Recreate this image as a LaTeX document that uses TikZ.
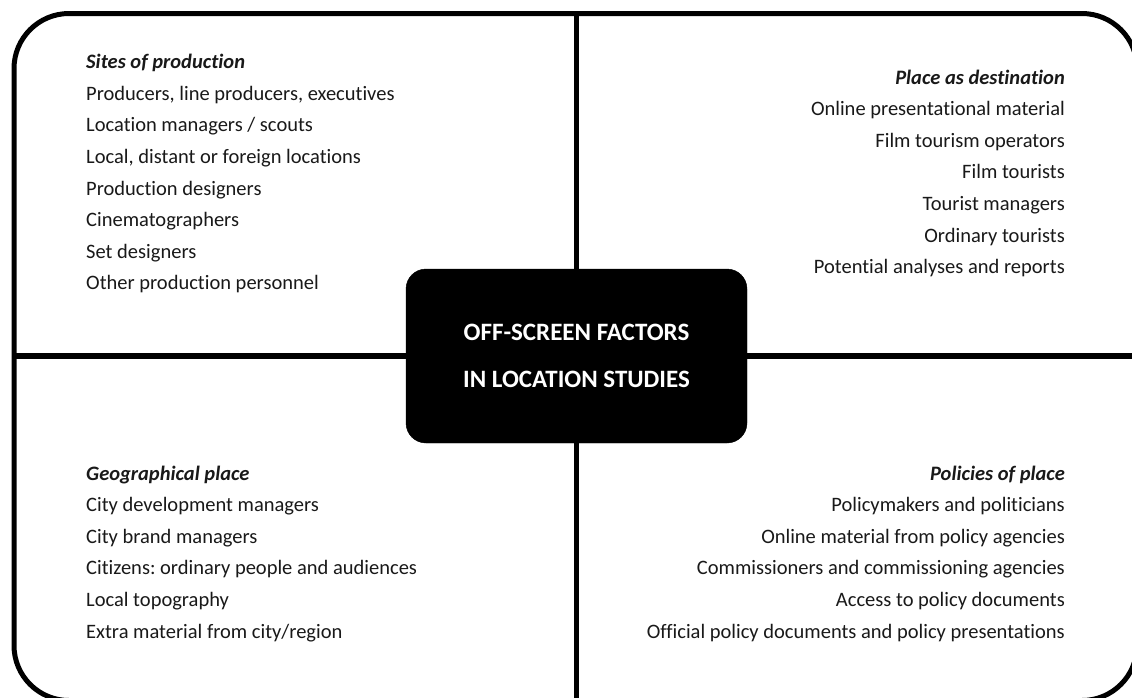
\documentclass[tikz,border=0pt]{standalone}
\usepackage{fontspec}
\setmainfont[Ligatures=NoCommon]{Carlito}
\usetikzlibrary{positioning}
\frenchspacing
\tikzset{
  frame/.style={draw=black, line width=5pt, rounded corners=55pt},
  divider/.style={draw=black, line width=5.5pt},
  hub/.style={rectangle, rounded corners=20pt, fill=black, draw=black,
    minimum width=341pt, minimum height=174pt, align=center, text=white,
    font=\fontsize{25}{47.7}\selectfont\bfseries},
  item/.style={inner sep=0pt, text=black!90, font=\fontsize{20.5}{24}\selectfont},
  head/.style={item, font=\fontsize{20.5}{24}\selectfont\bfseries\itshape},
}

\begin{document}
\begin{tikzpicture}[x=1pt, y=-1pt]
  \useasboundingbox (0,0) rectangle (1132,697);
  \fill[white] (0,0) rectangle (1132,697);
  \draw[frame] (14,13.5) rectangle (1137,700.5);
  \coordinate (top) at (576.5,13.5);
  \coordinate (bottom) at (576.5,700.5);
  \coordinate (left) at (14,356);
  \coordinate (right) at (1137,356);
  \node[hub] (hub) at (576.5,356) {OFF-SCREEN FACTORS\\IN LOCATION STUDIES};
  \draw[divider] (top) -- (hub.north);
  \draw[divider] (hub.south) -- (bottom);
  \draw[divider] (left) -- (hub.west);
  \draw[divider] (hub.east) -- (right);
  % sites of production
  \node[head, anchor=base west] (sites) at (86,68.6) {Sites of production};
  \foreach \l [count=\i] in {{Producers, line producers, executives}, Location managers / scouts,
    {Local, distant or foreign locations}, Production designers, Cinematographers,
    Set designers, Other production personnel}
    \node[item, anchor=base west] (sites-\i) at (86,68.6+31.6*\i) {\l};
  % place as destination
  \node[head, anchor=base east] (dest) at (1065,84) {Place as destination};
  \foreach \l [count=\i] in {Online presentational material, Film tourism operators, Film tourists,
    Tourist managers, Ordinary tourists, Potential analyses and reports}
    \node[item, anchor=base east] (dest-\i) at (1065,84+31.6*\i) {\l};
  % geographical place
  \node[head, anchor=base west] (geo) at (86,480) {Geographical place};
  \foreach \l [count=\i] in {City development managers, City brand managers,
    Citizens: ordinary people and audiences, Local topography, Extra material from city/region}
    \node[item, anchor=base west] (geo-\i) at (86,480+31.6*\i) {\l};
  % policies of place
  \node[head, anchor=base east] (policy) at (1065,480) {Policies of place};
  \foreach \l [count=\i] in {Policymakers and politicians, Online material from policy agencies,
    Commissioners and commissioning agencies, Access to policy documents,
    Official policy documents and policy presentations}
    \node[item, anchor=base east] (policy-\i) at (1065,480+31.6*\i) {\l};
\end{tikzpicture}
\end{document}
